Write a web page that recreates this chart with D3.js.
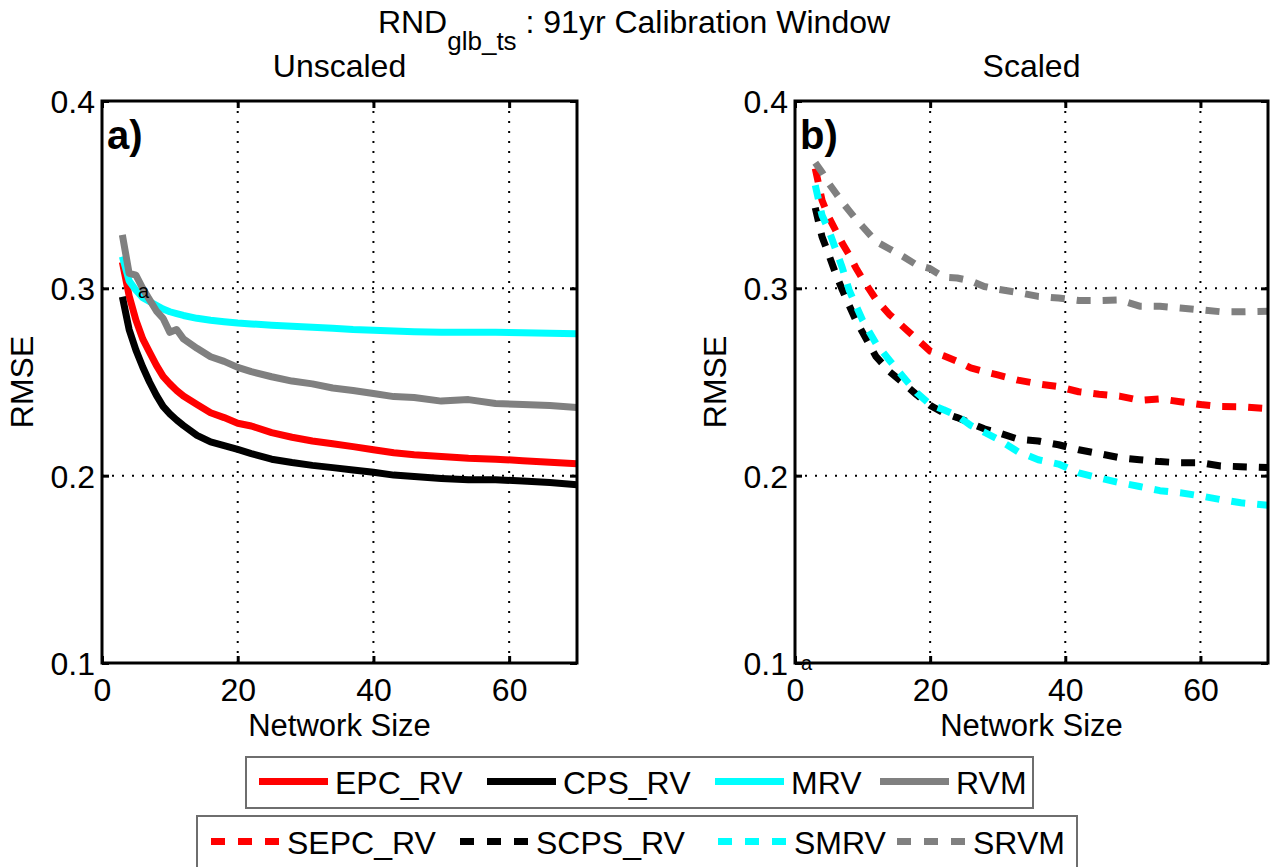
<!DOCTYPE html>
<html>
<head>
<meta charset="utf-8">
<script src="https://cdn.jsdelivr.net/npm/d3@7"></script>
<style>
  html, body { margin: 0; padding: 0; background: #fff; }
  svg { display: block; font-family: "Liberation Sans", Arial, sans-serif; }
</style>
</head>
<body>
<svg id="chart" width="1271" height="867"></svg>
<script>
// ---------------- DATA ----------------
const xTicks = [0, 20, 40, 60];
const yTicks = [0.1, 0.2, 0.3, 0.4];
const yTickLabels = ["0.1", "0.2", "0.3", "0.4"];

// Unscaled panel (a) network sizes
const sizesA = [3,4,5,6,7,8,9,10,11,12,14,16,18,20,22,25,28,31,34,37,40,43,46,50,54,58,62,66,70];
const EPC_RV = [0.314,0.296,0.283,0.273,0.266,0.259,0.253,0.249,0.2455,0.2425,0.238,0.2336,0.231,0.228,0.2265,0.223,0.2205,0.2185,0.217,0.2155,0.2138,0.2122,0.2112,0.2102,0.2093,0.2088,0.208,0.2072,0.2064];
const CPS_RV = [0.2955,0.278,0.267,0.258,0.25,0.243,0.237,0.233,0.2297,0.2268,0.2215,0.218,0.216,0.214,0.2118,0.2088,0.207,0.2055,0.2043,0.203,0.2018,0.2003,0.1995,0.1985,0.1978,0.1978,0.1972,0.1963,0.1952];
const MRV    = [0.317,0.304,0.299,0.295,0.293,0.291,0.289,0.2875,0.2865,0.2855,0.284,0.283,0.2822,0.2815,0.281,0.2803,0.2798,0.2792,0.2787,0.278,0.2776,0.2772,0.2768,0.2765,0.2765,0.2765,0.2763,0.276,0.2758];
const RVM    = [0.3285,0.308,0.307,0.3,0.294,0.288,0.284,0.2765,0.278,0.273,0.268,0.2635,0.261,0.2578,0.2555,0.2528,0.2505,0.249,0.2468,0.2455,0.2439,0.2422,0.2417,0.2398,0.2406,0.2385,0.238,0.2374,0.2364];

// Scaled panel (b) network sizes
const sizesB = [3,4,5,6,7,8,9,10,12,14,16,18,20,22,24,26,28,30,33,36,39,42,45,48,51,54,57,60,63,66,70];
const SEPC_RV = [0.364,0.347,0.338,0.331,0.324,0.318,0.311,0.305,0.294,0.286,0.2795,0.273,0.2665,0.264,0.261,0.2575,0.2555,0.2538,0.251,0.249,0.2475,0.2448,0.2435,0.2425,0.2402,0.241,0.2395,0.238,0.2369,0.2368,0.2358];
const SCPS_RV = [0.343,0.3275,0.318,0.308,0.2992,0.291,0.283,0.2765,0.2635,0.2555,0.2495,0.2432,0.2375,0.2335,0.231,0.228,0.225,0.223,0.2195,0.2185,0.2165,0.2138,0.2118,0.2096,0.2085,0.2075,0.2069,0.2069,0.2052,0.2048,0.2043];
const SMRV    = [0.355,0.339,0.331,0.321,0.311,0.2992,0.291,0.283,0.2705,0.2615,0.2528,0.2443,0.238,0.2352,0.232,0.2268,0.2232,0.2195,0.2128,0.2085,0.2062,0.2015,0.1988,0.1963,0.1942,0.192,0.1909,0.1892,0.1872,0.1855,0.1842];
const SRVM    = [0.367,0.362,0.356,0.351,0.346,0.3415,0.337,0.333,0.325,0.321,0.317,0.3125,0.3105,0.306,0.3055,0.304,0.301,0.2995,0.2978,0.2957,0.2948,0.2935,0.2935,0.2938,0.2905,0.2904,0.2895,0.2885,0.2875,0.2875,0.2878];

const namesA = ["EPC_RV", "CPS_RV", "MRV", "RVM"];
const namesB = ["SEPC_RV", "SCPS_RV", "SMRV", "SRVM"];
const colors = ["#ff0000", "#000000", "#00ffff", "#808080"];

// ---------------- DRAWING ----------------
const svg = d3.select("#chart");
const FONT = 32;

const y = d3.scaleLinear().domain([0.1, 0.4]).range([663, 101]);
const panels = [
  { id: "a", x: d3.scaleLinear().domain([0, 70]).range([102, 577]), sizes: sizesA,
    series: [EPC_RV, CPS_RV, MRV, RVM], dashed: false, title: "Unscaled", tag: "a)",
    stray: [5.3, 0.2985] },
  { id: "b", x: d3.scaleLinear().domain([0, 70]).range([795, 1268]), sizes: sizesB,
    series: [SEPC_RV, SCPS_RV, SMRV, SRVM], dashed: true, title: "Scaled", tag: "b)",
    stray: [0.9, 0.1] }
];

const defs = svg.append("defs");

panels.forEach(p => {
  const x = p.x;
  const [x0, x1] = x.range();
  const [yb, yt] = y.range();
  const g = svg.append("g");

  defs.append("clipPath").attr("id", "clip-" + p.id)
    .append("rect").attr("x", x0).attr("y", yt).attr("width", x1 - x0).attr("height", yb - yt);

  // dotted grid
  g.selectAll(".vg").data(xTicks.filter(t => t > 0)).enter().append("line")
    .attr("x1", d => x(d)).attr("x2", d => x(d)).attr("y1", yt).attr("y2", yb)
    .attr("stroke", "#000").attr("stroke-width", 2).attr("stroke-dasharray", "2,8");
  g.selectAll(".hg").data([0.2, 0.3]).enter().append("line")
    .attr("x1", x0).attr("x2", x1).attr("y1", d => y(d)).attr("y2", d => y(d))
    .attr("stroke", "#000").attr("stroke-width", 2).attr("stroke-dasharray", "2,8");

  // lines
  const line = d3.line().x((d, i) => x(p.sizes[i])).y(d => y(d));
  const lg = g.append("g").attr("clip-path", "url(#clip-" + p.id + ")");
  p.series.forEach((s, k) => {
    lg.append("path").datum(s).attr("d", line)
      .attr("fill", "none").attr("stroke", colors[k]).attr("stroke-width", 7)
      .attr("stroke-linejoin", "round")
      .attr("stroke-dasharray", p.dashed ? "14,12" : null);
  });

  // axes (inside ticks)
  const axB = d3.axisBottom(x).tickValues(xTicks).tickSizeInner(-7).tickSizeOuter(0).tickPadding(15);
  const axT = d3.axisTop(x).tickValues(xTicks).tickSizeInner(-7).tickSizeOuter(0).tickFormat("");
  const axL = d3.axisLeft(y).tickValues(yTicks).tickSizeInner(-7).tickSizeOuter(0).tickPadding(7)
    .tickFormat((d, i) => yTickLabels[i]);
  const axR = d3.axisRight(y).tickValues(yTicks).tickSizeInner(-7).tickSizeOuter(0).tickFormat("");

  const styleAxis = sel => {
    sel.select(".domain").remove();
    sel.selectAll(".tick line").attr("stroke", "#000").attr("stroke-width", 3);
    sel.selectAll(".tick text").attr("fill", "#000").style("font-size", FONT + "px")
      .style("font-family", "Liberation Sans, Arial, sans-serif");
  };
  g.append("g").attr("transform", `translate(0,${yb})`).call(axB).call(styleAxis);
  g.append("g").attr("transform", `translate(0,${yt})`).call(axT).call(styleAxis);
  g.append("g").attr("transform", `translate(${x0},0)`).call(axL).call(styleAxis)
    .selectAll(".tick text").attr("dy", "0.36em");
  g.append("g").attr("transform", `translate(${x1},0)`).call(axR).call(styleAxis);

  // box
  g.append("rect").attr("x", x0).attr("y", yt).attr("width", x1 - x0).attr("height", yb - yt)
    .attr("fill", "none").attr("stroke", "#000").attr("stroke-width", 3);

  // panel tag
  g.append("text").attr("x", x0 + 5).attr("y", 149).text(p.tag)
    .style("font-size", "40px").style("font-weight", "bold").attr("fill", "#000");

  // stray small label
  g.append("text").attr("x", x(p.stray[0])).attr("y", y(p.stray[1]) + 7).text("a")
    .style("font-size", "20px").attr("fill", "#000");

  // panel title
  g.append("text").attr("x", (x0 + x1) / 2).attr("y", 77).attr("text-anchor", "middle")
    .style("font-size", FONT + "px").text(p.title);

  // x label
  g.append("text").attr("x", (x0 + x1) / 2).attr("y", 736).attr("text-anchor", "middle")
    .style("font-size", "31px").text("Network Size");

  // y label
  g.append("text").attr("transform", `translate(${x0 - 69},${(yt + yb) / 2}) rotate(-90)`)
    .attr("text-anchor", "middle").style("font-size", FONT + "px").text("RMSE");
});

// figure title
const t = svg.append("text").attr("x", 634).attr("y", 33).attr("text-anchor", "middle")
  .style("font-size", FONT + "px");
t.append("tspan").text("RND");
t.append("tspan").attr("dy", 17).style("font-size", "26px").text("glb_ts");
t.append("tspan").attr("dy", -17).text(" : 91yr Calibration Window");

// legends
function legend(names, dashed, boxX, boxY, boxW, boxH, sampleXs) {
  const lg = svg.append("g");
  lg.append("rect").attr("x", boxX).attr("y", boxY).attr("width", boxW).attr("height", boxH)
    .attr("fill", "#fff").attr("stroke", "#6e6e6e").attr("stroke-width", 2);
  const cy = boxY + boxH / 2 - 1;
  names.forEach((n, k) => {
    const cx = sampleXs[k];
    lg.append("line").attr("x1", cx).attr("x2", cx + 69).attr("y1", cy).attr("y2", cy)
      .attr("stroke", colors[k]).attr("stroke-width", 7)
      .attr("stroke-dasharray", dashed ? "14,13" : null);
    lg.append("text").attr("x", cx + 76).attr("y", cy + 12)
      .style("font-size", FONT + "px").text(n);
  });
}
legend(namesA, false, 246, 757, 787, 51, [259, 487, 715, 880]);
legend(namesB, true, 197, 816, 880, 53, [211, 460, 718, 897]);
</script>
</body>
</html>
